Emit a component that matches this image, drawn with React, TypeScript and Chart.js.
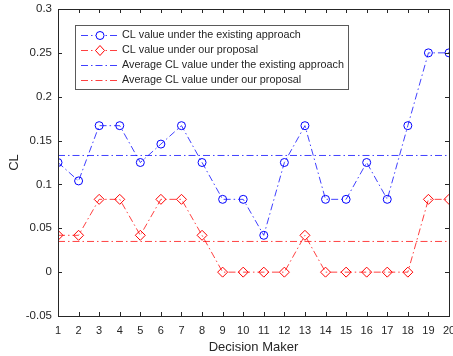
import React, { useEffect, useRef } from "react";
import { Chart, registerables } from "chart.js";

Chart.register(...registerables);

const decisionMakers = [1, 2, 3, 4, 5, 6, 7, 8, 9, 10, 11, 12, 13, 14, 15, 16, 17, 18, 19, 20];
const existingCL = [0.125, 0.104, 0.167, 0.167, 0.125, 0.146, 0.167, 0.125, 0.083, 0.083, 0.042, 0.125, 0.167, 0.083, 0.083, 0.125, 0.083, 0.167, 0.25, 0.25];
const proposalCL = [0.042, 0.042, 0.083, 0.083, 0.042, 0.083, 0.083, 0.042, 0, 0, 0, 0, 0.042, 0, 0, 0, 0, 0, 0.083, 0.083];
const avgExisting = 0.133;
const avgProposal = 0.035;
const seriesLabels = [
  "CL value under the existing approach",
  "CL value under our proposal",
  "Average CL value under the existing approach",
  "Average CL value under our proposal",
];
const yMin = -0.05;
const yMax = 0.3;
const yStep = 0.05;

const BLUE = "rgb(0,0,255)";
const RED = "rgb(255,0,0)";
const BLUE_LINE = "rgba(0,0,255,0.75)";
const RED_LINE = "rgba(255,0,0,0.75)";
const AXIS = "#262626";
const DASH = [7, 3, 1.5, 3];
const FONT = "'Liberation Sans', Arial, sans-serif";

const frameAndLegend = {
  id: "frameAndLegend",
  afterDraw(chart: any) {
    const ctx = chart.ctx;
    const { left, right, top, bottom } = chart.chartArea;
    const xs = chart.scales.x;
    const ys = chart.scales.y;
    ctx.save();
    ctx.strokeStyle = AXIS;
    ctx.lineWidth = 1;
    ctx.setLineDash([]);
    ctx.strokeRect(Math.round(left) + 0.5, Math.round(top) + 0.5, Math.round(right - left), Math.round(bottom - top));
    const tl = 4;
    ctx.beginPath();
    xs.ticks.forEach((t: any) => {
      const x = Math.round(xs.getPixelForValue(t.value)) + 0.5;
      ctx.moveTo(x, bottom);
      ctx.lineTo(x, bottom - tl);
      ctx.moveTo(x, top);
      ctx.lineTo(x, top + tl);
    });
    ys.ticks.forEach((t: any) => {
      const y = Math.round(ys.getPixelForValue(t.value)) + 0.5;
      ctx.moveTo(left, y);
      ctx.lineTo(left + tl, y);
      ctx.moveTo(right, y);
      ctx.lineTo(right - tl, y);
    });
    ctx.stroke();

    // legend
    const bx = 75.5, by = 25.5, bw = 273, bh = 64;
    ctx.fillStyle = "#ffffff";
    ctx.fillRect(bx, by, bw, bh);
    ctx.strokeStyle = "#5a5a5a";
    ctx.strokeRect(bx, by, bw, bh);
    const rows = [35.5, 50.5, 65.5, 80.5];
    const datasets = chart.data.datasets;
    ctx.font = `10.8px ${FONT}`;
    ctx.textBaseline = "middle";
    rows.forEach((ry: number, i: number) => {
      const ds = datasets[i];
      ctx.strokeStyle = ds.borderColor;
      ctx.lineWidth = 1;
      ctx.setLineDash(DASH);
      ctx.beginPath();
      ctx.moveTo(81, ry);
      ctx.lineTo(119, ry);
      ctx.stroke();
      ctx.setLineDash([]);
      if (ds.pointRadius > 0) {
        ctx.strokeStyle = ds.pointBorderColor;
        ctx.beginPath();
        if (ds.pointStyle === "circle") {
          ctx.arc(100, ry, 4, 0, Math.PI * 2);
        } else {
          ctx.moveTo(100, ry - 5);
          ctx.lineTo(104.5, ry);
          ctx.lineTo(100, ry + 5);
          ctx.lineTo(95.5, ry);
          ctx.closePath();
        }
        ctx.fillStyle = "#ffffff";
        ctx.fill();
        ctx.stroke();
      }
      ctx.fillStyle = AXIS;
      ctx.fillText(ds.label, 122, ry);
    });
    ctx.restore();
  },
};

export default function App() {
  const ref = useRef<HTMLCanvasElement | null>(null);
  useEffect(() => {
    document.body.style.margin = "0";
    const canvas = ref.current;
    if (!canvas) return;
    const chart = new Chart(canvas, {
      type: "line",
      data: {
        datasets: [
          {
            label: seriesLabels[0],
            data: decisionMakers.map((x, i) => ({ x, y: existingCL[i] })),
            borderColor: BLUE_LINE,
            backgroundColor: "rgba(0,0,0,0)",
            borderWidth: 1,
            borderDash: DASH,
            pointStyle: "circle",
            pointRadius: 4,
            pointBorderWidth: 1,
            pointBorderColor: BLUE,
            pointBackgroundColor: "rgba(0,0,0,0)",
            fill: false,
            tension: 0,
          },
          {
            label: seriesLabels[1],
            data: decisionMakers.map((x, i) => ({ x, y: proposalCL[i] })),
            borderColor: RED_LINE,
            backgroundColor: "rgba(0,0,0,0)",
            borderWidth: 1,
            borderDash: DASH,
            pointStyle: "rectRot",
            pointRadius: 5,
            pointBorderWidth: 1,
            pointBorderColor: RED,
            pointBackgroundColor: "rgba(0,0,0,0)",
            fill: false,
            tension: 0,
          },
          {
            label: seriesLabels[2],
            data: [
              { x: decisionMakers[0], y: avgExisting },
              { x: decisionMakers[decisionMakers.length - 1], y: avgExisting },
            ],
            borderColor: BLUE_LINE,
            borderWidth: 1,
            borderDash: DASH,
            pointRadius: 0,
            fill: false,
          },
          {
            label: seriesLabels[3],
            data: [
              { x: decisionMakers[0], y: avgProposal },
              { x: decisionMakers[decisionMakers.length - 1], y: avgProposal },
            ],
            borderColor: RED_LINE,
            borderWidth: 1,
            borderDash: DASH,
            pointRadius: 0,
            fill: false,
          },
        ],
      },
      options: {
        animation: false,
        responsive: false,
        maintainAspectRatio: false,
        layout: { autoPadding: false, padding: { top: 9, right: 4, left: 0, bottom: 0 } },
        plugins: {
          legend: { display: false },
          tooltip: { enabled: false },
        },
        scales: {
          x: {
            type: "linear",
            min: 1,
            max: 20,
            grid: { display: false, drawTicks: false },
            border: { display: false },
            ticks: {
              stepSize: 1,
              autoSkip: false,
              maxRotation: 0,
              padding: 8,
              color: AXIS,
              font: { family: FONT, size: 11 },
            },
            title: {
              display: true,
              text: "Decision Maker",
              color: AXIS,
              font: { family: FONT, size: 13 },
              padding: { top: 0, bottom: 1 },
            },
            afterFit: (s: any) => {
              s.height = 40;
              s.paddingLeft = 0;
              s.paddingRight = 0;
            },
          },
          y: {
            type: "linear",
            min: yMin,
            max: yMax,
            grid: { display: false, drawTicks: false },
            border: { display: false },
            ticks: {
              stepSize: yStep,
              padding: 6,
              color: AXIS,
              font: { family: FONT, size: 11.5 },
              callback: (v: any) => String(Number(Number(v).toFixed(2))),
            },
            title: {
              display: true,
              text: "CL",
              color: AXIS,
              font: { family: FONT, size: 13 },
              padding: { top: 7, bottom: 0 },
            },
            afterFit: (s: any) => {
              s.width = 58;
              s.paddingTop = 0;
              s.paddingBottom = 0;
            },
          },
        },
      },
      plugins: [frameAndLegend],
    } as any);
    return () => chart.destroy();
  }, []);
  return <canvas ref={ref} width={453} height={356} style={{ display: "block", width: 453, height: 356 }} />;
}
